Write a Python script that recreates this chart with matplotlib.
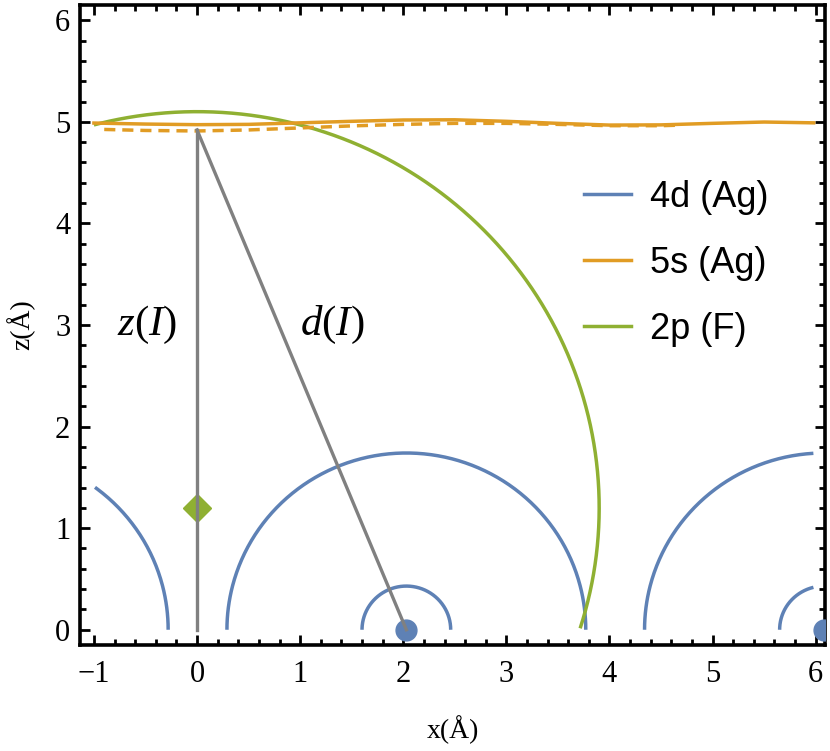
import numpy as np
import matplotlib
matplotlib.use("Agg")
import matplotlib.pyplot as plt
from matplotlib.ticker import MultipleLocator
from matplotlib.lines import Line2D

plt.rcParams['mathtext.fontset'] = 'custom'
plt.rcParams['mathtext.rm'] = 'Liberation Serif'
plt.rcParams['mathtext.it'] = 'Liberation Serif:italic'

# ---------------- data ----------------
series_labels = ["4d (Ag)", "5s (Ag)", "2p (F)"]
colors = ["#5E81B5", "#E19C24", "#8FB032"]

# Ag atom positions (x, z) and 4d orbital radii
ag_x = [-2.02, 2.03, 6.08]
ag_z = [0.0, 0.0, 0.0]
ag_4d_outer_r = 1.74
ag_4d_inner_r = 0.43
ag_dot_x = [2.03, 6.08]

# F atom position and 2p radius
f_x = 0.0
f_z = 1.20
f_2p_r = 3.90

# 5s (Ag) surface contour: solid and dashed
s5_x = [-1.0, -0.5, 0.0, 0.5, 1.0, 1.5, 2.0, 2.5, 3.0, 3.5, 4.0, 4.5, 5.0, 5.5, 5.98]
s5_z = [4.988, 4.978, 4.972, 4.975, 4.99, 5.005, 5.018, 5.02, 5.005, 4.985, 4.968, 4.97, 4.985, 4.998, 4.99]
s5d_x = [-0.9, -0.5, 0.0, 0.5, 1.0, 1.5, 2.0, 2.5, 3.0, 3.5, 4.0, 4.5, 4.7]
s5d_z = [4.925, 4.915, 4.91, 4.92, 4.94, 4.96, 4.975, 4.985, 4.985, 4.975, 4.962, 4.962, 4.968]

# image-plane point
img_z = 4.92

x_range = (-1.0, 5.98)

# ---------------- figure ----------------
fig = plt.figure(figsize=(8.30, 7.51), dpi=100)
ax = fig.add_axes([80/830, 1 - 645/751, 745/830, 640/751])


def arc(cx, cz, r, t0, t1, n=400):
    t = np.radians(np.linspace(t0, t1, n))
    x = cx + r*np.cos(t)
    z = cz + r*np.sin(t)
    m = (x < x_range[0]) | (x > x_range[1]) | (z < 0)
    x[m] = np.nan
    z[m] = np.nan
    return x, z

lw = 2.5
# 4d arcs
for cx, cz in zip(ag_x, ag_z):
    for r in (ag_4d_outer_r, ag_4d_inner_r):
        x, z = arc(cx, cz, r, 0, 180)
        ax.plot(x, z, color=colors[0], lw=lw, solid_capstyle='butt', zorder=2)

# 2p arc
x, z = arc(f_x, f_z, f_2p_r, -40, 140, 800)
ax.plot(x, z, color=colors[2], lw=lw, solid_capstyle='butt', zorder=2)

# 5s contours
ax.plot(s5d_x, s5d_z, color=colors[1], lw=lw, ls=(0, (3.2, 2.0)), zorder=2)
ax.plot(s5_x, s5_z, color=colors[1], lw=lw, zorder=3)

# F atom
ax.plot([f_x], [f_z], marker='D', ms=14, color=colors[2], zorder=3)

# construction lines
ax.plot([f_x, f_x], [0, img_z], color='#808080', lw=2.4, zorder=4)
ax.plot([f_x, ag_dot_x[0]], [img_z, 0], color='#808080', lw=2.4, zorder=4)

# Ag dots
ax.plot(ag_dot_x, [0, 0], 'o', ms=15, color=colors[0], zorder=3)

ax.text(-0.48, 3.0, r'$z(I)$', fontsize=31, ha='center', va='center')
ax.text(1.31, 3.0, r'$d(I)$', fontsize=31, ha='center', va='center')

# legend
handles = [Line2D([], [], color=c, lw=lw) for c in colors]
ax.legend(handles, series_labels, loc='upper left', bbox_to_anchor=(0.652, 0.755),
          frameon=False, borderpad=0, handlelength=1.30, handletextpad=0.53,
          labelspacing=0.86, prop={'family': 'Liberation Sans', 'size': 26})

ax.set_xlim(-1.135, 6.09)
ax.set_ylim(-0.15, 6.15)
ax.xaxis.set_major_locator(MultipleLocator(1))
ax.xaxis.set_minor_locator(MultipleLocator(0.2))
ax.yaxis.set_major_locator(MultipleLocator(1))
ax.yaxis.set_minor_locator(MultipleLocator(0.2))
ax.xaxis.set_major_formatter(plt.FuncFormatter(lambda v, p: f"{int(round(v))}".replace('-', '\u2212')))
ax.yaxis.set_major_formatter(plt.FuncFormatter(lambda v, p: f"{int(round(v))}"))
ax.tick_params(which='both', direction='in', top=True, right=True, width=2.0,
               labelsize=22, pad=7)
ax.tick_params(axis='x', which='major', pad=11)
ax.tick_params(which='major', length=7)
ax.tick_params(which='minor', length=4)
for lab in ax.get_xticklabels() + ax.get_yticklabels():
    lab.set_fontfamily('Liberation Serif')
for s in ax.spines.values():
    s.set_linewidth(2.6)

ax.set_xlabel('x(Å)', fontsize=20, fontfamily='Liberation Serif', labelpad=19)
ax.set_ylabel('z(Å)', fontsize=20, fontfamily='Liberation Serif', labelpad=14)

fig.savefig('out.png', dpi=100)
